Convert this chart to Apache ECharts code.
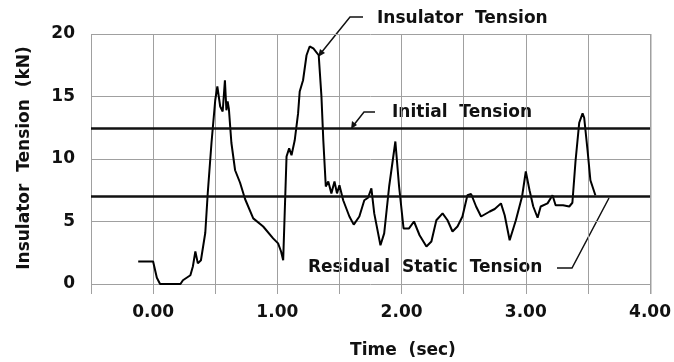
<!DOCTYPE html>
<html>
<head>
<meta charset="utf-8">
<script src="https://cdn.jsdelivr.net/npm/echarts@6/dist/echarts.min.js"></script>
<style>html,body{margin:0;padding:0;background:#fff}#c{width:674px;height:362px}</style>
</head>
<body>
<div id="c"></div>
<script>
// Time (sec)
const timeSec = [-0.12,0.00,0.03,0.056,0.22,0.24,0.30,0.32,0.34,0.36,0.385,0.42,0.44,0.47,0.50,0.517,0.54,0.56,0.578,0.59,0.60,0.61,0.63,0.66,0.70,0.74,0.806,0.886,0.966,1.006,1.03,1.047,1.074,1.095,1.114,1.14,1.167,1.18,1.207,1.235,1.26,1.29,1.333,1.355,1.37,1.39,1.41,1.435,1.46,1.48,1.50,1.53,1.58,1.615,1.66,1.70,1.73,1.757,1.78,1.83,1.86,1.90,1.95,1.98,2.016,2.06,2.10,2.145,2.20,2.24,2.28,2.33,2.37,2.41,2.45,2.49,2.53,2.56,2.60,2.64,2.71,2.75,2.80,2.83,2.87,2.92,2.97,3.00,3.03,3.06,3.095,3.12,3.175,3.215,3.24,3.30,3.35,3.375,3.40,3.43,3.457,3.47,3.497,3.52,3.56];
// Insulator tension (kN)
const tensionKN = [1.8,1.8,0.5,0.0,0.0,0.3,0.7,1.4,2.6,1.65,1.9,4.1,7.3,11.3,14.7,15.8,14.2,13.8,16.3,13.9,14.6,14.0,11.3,9.1,8.1,6.8,5.25,4.6,3.65,3.25,2.6,1.9,10.2,10.85,10.3,11.5,13.65,15.4,16.3,18.3,19.0,18.85,18.3,15.0,11.5,7.8,8.2,7.25,8.2,7.25,7.9,6.7,5.4,4.75,5.4,6.7,6.9,7.65,5.65,3.1,4.05,7.8,11.4,7.8,4.45,4.45,5.0,3.9,3.0,3.4,5.1,5.65,5.1,4.2,4.6,5.4,7.1,7.2,6.2,5.4,5.8,6.0,6.45,5.5,3.5,5.1,7.0,9.0,7.5,6.2,5.3,6.2,6.45,7.1,6.3,6.3,6.2,6.5,9.8,12.9,13.65,13.3,10.7,8.3,7.1];
const initialTension = 12.5;
const residualStaticTension = 7.0;
const xTicks = [0, 1, 2, 3, 4];
const yTicks = [0, 5, 10, 15, 20];
const labels = ["Insulator  Tension", "Initial  Tension", "Residual  Static  Tension"];
const xTitle = "Time  (sec)";
const yTitle = "Insulator  Tension  (kN)";

const FONT = "DejaVu Sans";
const F17 = 'bold 17px "' + FONT + '"';
const chart = echarts.init(document.getElementById('c'), null, {renderer: 'canvas'});
const gridCol = '#a0a0a0';
const lineData = timeSec.map((t, i) => [t, tensionKN[i]]);
const txt = (x, y, s) => ({
  type: 'text', x: x, y: y,
  style: {text: s, font: F17, fill: '#111', textVerticalAlign: 'middle'}
});

chart.setOption({
  animation: false,
  grid: {left: 91, right: 23, top: 34, bottom: 78},
  xAxis: {
    type: 'value', min: -0.5, max: 4, interval: 0.5,
    axisLine: {show: false},
    axisTick: {show: true, length: 10, lineStyle: {color: gridCol, width: 1}},
    splitLine: {show: true, lineStyle: {color: gridCol, width: 1}},
    axisLabel: {
      margin: 20, color: '#111', fontFamily: FONT, fontSize: 17, fontWeight: 'bold',
      formatter: v => xTicks.some(t => Math.abs(t - v) < 1e-9) ? v.toFixed(2) : ''
    }
  },
  yAxis: {
    type: 'value', min: 0, max: 20, interval: 5,
    axisLine: {show: false},
    axisTick: {show: true, length: 9, lineStyle: {color: gridCol, width: 1}},
    splitLine: {show: true, lineStyle: {color: gridCol, width: 1}},
    axisLabel: {
      margin: 16, color: '#111', fontFamily: FONT, fontSize: 17, fontWeight: 'bold',
      formatter: v => yTicks.includes(v) ? String(v) : ''
    }
  },
  series: [{
    type: 'line', data: lineData, symbol: 'none',
    lineStyle: {color: '#000', width: 2},
    markLine: {
      silent: true, symbol: 'none', label: {show: false},
      lineStyle: {color: '#111', width: 2.5, type: 'solid'},
      data: [{yAxis: initialTension}, {yAxis: residualStaticTension}]
    }
  }],
  graphic: [
    {type: 'line', shape: {x1: 651, y1: 34, x2: 651, y2: 294}, style: {stroke: gridCol, lineWidth: 1}},
    txt(377, 19, labels[0]),
    {type: 'polyline', shape: {points: [[363, 17], [350, 17], [321, 53]]}, style: {stroke: '#111', lineWidth: 1.5, fill: null}},
    {type: 'polygon', shape: {points: [[318, 57], [320, 49], [325, 53]]}, style: {fill: '#111'}},
    txt(392, 113, labels[1]),
    {type: 'polyline', shape: {points: [[375, 112], [364, 112], [353, 126]]}, style: {stroke: '#111', lineWidth: 1.5, fill: null}},
    {type: 'polygon', shape: {points: [[351, 129], [352, 121], [357, 125]]}, style: {fill: '#111'}},
    txt(308, 268, labels[2]),
    {type: 'polyline', shape: {points: [[557, 268], [572, 268], [609, 198]]}, style: {stroke: '#111', lineWidth: 1.5, fill: null}},
    {type: 'text', x: 403, y: 351,
     style: {text: xTitle, font: F17, fill: '#111', textAlign: 'center', textVerticalAlign: 'middle'}},
    {type: 'text', x: 25, y: 158, rotation: Math.PI / 2,
     style: {text: yTitle, font: F17, fill: '#111', textAlign: 'center', textVerticalAlign: 'middle'}}
  ]
});
</script>
</body>
</html>
